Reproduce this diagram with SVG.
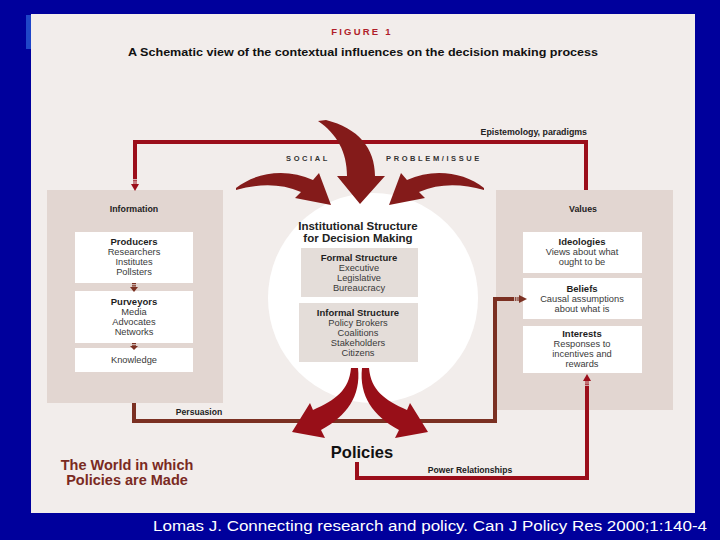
<svg xmlns="http://www.w3.org/2000/svg" width="720" height="540" viewBox="0 0 720 540">
<defs>
<style>
.t{font-family:"Liberation Sans",Arial,sans-serif;text-anchor:middle}
.h{font-weight:bold;fill:#1e1e1e;font-size:9.5px}
.r{fill:#3a3a3a;font-size:9.3px}
.lab{font-weight:bold;fill:#222;font-size:8.2px}
.panel{fill:#E2D6D1}
.box{fill:#ffffff}
.gbox{fill:#E4DDD9}
.red{stroke:#9B0E1A;fill:none;stroke-width:4}
.brn{stroke:#7B3022;fill:none;stroke-width:4}
.dash{stroke-dasharray:1.2 1}
.big1{fill:#841B1A}
.big2{fill:#980F18}
</style>
</defs>
<rect x="0" y="0" width="720" height="540" fill="#00009C"/>
<rect x="26" y="15" width="6" height="34" fill="#1F45C8"/>
<rect x="31" y="14" width="664" height="499" fill="#F2EDEB"/>

<g id="title">
<text class="t" x="362" y="35" style="font-size:9.5px;font-weight:bold;fill:#B01E2A;letter-spacing:2.2px">FIGURE 1</text>
<text class="t" x="363" y="56" style="font-size:11px;font-weight:bold;fill:#111" textLength="470" lengthAdjust="spacingAndGlyphs">A Schematic view of the contextual influences on the decision making process</text>
<text class="t" x="308" y="161" style="font-size:7.5px;font-weight:bold;fill:#333;letter-spacing:2.6px">SOCIAL</text>
<text class="t" x="434" y="161" style="font-size:7.5px;font-weight:bold;fill:#333;letter-spacing:2.6px">PROBLEM/ISSUE</text>
</g>

<g id="information">
<rect class="panel" x="47" y="190" width="176" height="213"/>
<text class="t lab" x="134" y="212" style="font-size:8.8px">Information</text>
<g id="producers">
<rect class="box" x="75" y="232" width="118" height="51"/>
<text class="t h" x="134" y="245">Producers</text>
<text class="t r" x="134" y="255">Researchers</text>
<text class="t r" x="134" y="265">Institutes</text>
<text class="t r" x="134" y="275">Pollsters</text>
</g>
<g id="purveyors">
<rect class="box" x="75" y="291" width="118" height="52"/>
<text class="t h" x="134" y="305">Purveyors</text>
<text class="t r" x="134" y="315">Media</text>
<text class="t r" x="134" y="325">Advocates</text>
<text class="t r" x="134" y="335">Networks</text>
</g>
<g id="knowledge">
<rect class="box" x="75" y="348" width="118" height="24"/>
<text class="t r" x="134" y="363">Knowledge</text>
</g>
</g>

<g id="institutional">
<circle cx="373" cy="298" r="105" fill="#ffffff"/>
<text class="t" x="358" y="230" style="font-size:11.5px;font-weight:bold;fill:#222">Institutional Structure</text>
<text class="t" x="358" y="242" style="font-size:11.5px;font-weight:bold;fill:#222">for Decision Making</text>
<g id="formal">
<rect class="gbox" x="301" y="248" width="117" height="49"/>
<text class="t h" x="359" y="261">Formal Structure</text>
<text class="t r" x="359" y="271">Executive</text>
<text class="t r" x="359" y="281">Legislative</text>
<text class="t r" x="359" y="291">Bureaucracy</text>
</g>
<g id="informal">
<rect class="gbox" x="299" y="303" width="119" height="59"/>
<text class="t h" x="358" y="316">Informal Structure</text>
<text class="t r" x="358" y="326">Policy Brokers</text>
<text class="t r" x="358" y="336">Coalitions</text>
<text class="t r" x="358" y="346">Stakeholders</text>
<text class="t r" x="358" y="356">Citizens</text>
</g>
</g>

<g id="values">
<rect class="panel" x="496" y="190" width="177" height="220"/>
<text class="t lab" x="583" y="212" style="font-size:8.8px">Values</text>
<g id="ideologies">
<rect class="box" x="523" y="232" width="119" height="41"/>
<text class="t h" x="582" y="245">Ideologies</text>
<text class="t r" x="582" y="255">Views about what</text>
<text class="t r" x="582" y="265">ought to be</text>
</g>
<g id="beliefs">
<rect class="box" x="523" y="278" width="119" height="41"/>
<text class="t h" x="582" y="292">Beliefs</text>
<text class="t r" x="582" y="302">Causal assumptions</text>
<text class="t r" x="582" y="312">about what is</text>
</g>
<g id="interests">
<rect class="box" x="523" y="326" width="119" height="47"/>
<text class="t h" x="582" y="337">Interests</text>
<text class="t r" x="582" y="347">Responses to</text>
<text class="t r" x="582" y="357">incentives and</text>
<text class="t r" x="582" y="367">rewards</text>
</g>
</g>

<g id="connectors">
<path class="red" d="M586,190 V142 H135 V178"/>
<path class="red dash" d="M135,178 V184"/>
<polygon fill="#9B0E1A" points="131,184 139,184 135,191"/>
<text class="t lab" x="587" y="135" style="text-anchor:end;font-size:8.8px">Epistemology, paradigms</text>

<path class="brn" d="M134,403 V421 H495 V299 H513"/>
<path class="brn dash" d="M513,299 H519"/>
<polygon fill="#7B3022" points="519,295 519,303 527,299"/>
<text class="t lab" x="199" y="415" style="font-size:8.6px">Persuasion</text>

<path class="brn dash" d="M134,283 V288"/>
<polygon fill="#7B3022" points="130,287 138,287 134,292"/>
<path class="brn dash" d="M134,343 V347"/>
<polygon fill="#7B3022" points="130,346 138,346 134,350"/>

<path class="red" d="M357,462 V478 H587 V387"/>
<path class="red dash" d="M587,387 V381"/>
<polygon fill="#9B0E1A" points="583,381 591,381 587,374"/>
<text class="t lab" x="470" y="473" style="font-size:8.6px">Power Relationships</text>

<path class="big1" d="M318,121 L326,120 C358,128 375,148 375,176 L385,176 L360,204 L337,176 L347,176 C347,152 337,134 318,121 Z"/>
<path class="big1" d="M236,188 C256,172 287,168 313,180 L319,173 L331,205 L295,198 L301,192 C280,183 258,184 236,190 Z"/>
<path class="big1" d="M484,188 C464,172 433,168 407,180 L401,173 L389,205 L425,198 L419,192 C440,183 462,184 484,190 Z"/>
<path class="big2" d="M351,368 L358,368 C361,396 347,416 321,430 L325,438 L292,432 L310,403 L313,410 C336,400 349,390 351,368 Z"/>
<path class="big2" d="M369,368 L362,368 C359,396 373,416 399,430 L395,438 L428,432 L410,403 L407,410 C384,400 371,390 369,368 Z"/>
</g>

<g id="policies">
<text class="t" x="362" y="458" style="font-size:16.5px;font-weight:bold;fill:#111">Policies</text>
</g>

<g id="world">
<text class="t" x="127" y="470" style="font-size:14.5px;font-weight:bold;fill:#7A2A22">The World in which</text>
<text class="t" x="127" y="485" style="font-size:14.5px;font-weight:bold;fill:#7A2A22">Policies are Made</text>
</g>

<g id="footer">
<text class="t" x="430" y="531" style="font-size:15.5px;fill:#ffffff" textLength="554" lengthAdjust="spacingAndGlyphs">Lomas J. Connecting research and policy. Can J Policy Res 2000;1:140-4</text>
</g>
</svg>
